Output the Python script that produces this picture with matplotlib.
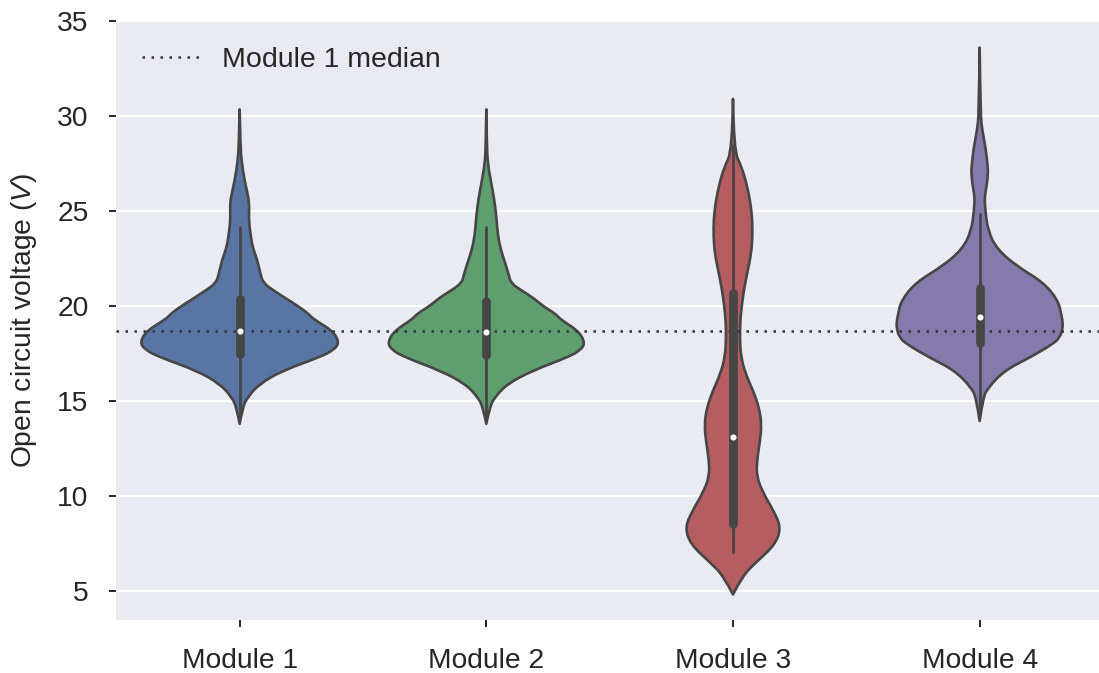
import matplotlib
matplotlib.use("Agg")
import matplotlib.pyplot as plt
from matplotlib.path import Path
from matplotlib.patches import PathPatch

# ---------------- data ----------------
categories = ["Module 1", "Module 2", "Module 3", "Module 4"]

# density profile of each violin: voltage levels and half-widths (category units)
m1_levels = [13.8, 14.65, 15.2, 15.9, 16.6, 17.3, 17.7, 18.1, 18.7, 19.3, 19.6, 19.95,
             20.46, 20.8, 21.2, 21.7, 22.4, 23.0, 23.5, 24.5, 25.2, 25.7, 26.6, 27.6, 28.5, 30.35]
m1_widths = [0.0, 0.012, 0.032, 0.08, 0.174, 0.323, 0.384, 0.404, 0.377, 0.30, 0.278, 0.242,
             0.18, 0.14, 0.096, 0.084, 0.072, 0.055, 0.047, 0.037, 0.039, 0.036, 0.02, 0.008, 0.003, 0.0]

m2_levels = [13.8, 14.65, 15.2, 15.9, 16.6, 17.3, 17.7, 18.1, 18.7, 19.3, 19.6, 19.95,
             20.46, 20.8, 21.2, 21.6, 22.2, 22.9, 23.5, 24.0, 24.8, 25.7, 26.6, 27.5, 28.5, 30.35]
m2_widths = [0.0, 0.013, 0.034, 0.085, 0.187, 0.33, 0.385, 0.40, 0.372, 0.30, 0.28, 0.235,
             0.187, 0.145, 0.10, 0.092, 0.078, 0.06, 0.05, 0.045, 0.04, 0.031, 0.018, 0.006, 0.002, 0.0]

m3_levels = [4.82, 5.81, 6.53, 7.44, 8.34, 9.24, 10.14, 11.05, 11.95, 12.85, 13.75, 14.66,
             15.56, 16.46, 17.36, 18.27, 19.17, 20.07, 20.97, 21.88, 22.78, 23.68, 24.58,
             25.49, 26.39, 27.29, 28.2, 30.9]
m3_widths = [0.0, 0.039, 0.095, 0.171, 0.195, 0.164, 0.123, 0.095, 0.098, 0.109, 0.116, 0.106,
             0.081, 0.050, 0.032, 0.028, 0.029, 0.036, 0.046, 0.060, 0.074, 0.079, 0.078,
             0.070, 0.056, 0.036, 0.003, 0.0]

m4_levels = [13.95, 15.18, 15.7, 16.6, 17.3, 18.0, 18.35, 18.8, 19.1, 19.5, 20.3, 21.25,
             22.1, 23.0, 23.95, 25.0, 25.7, 26.23, 26.93, 27.46, 28.33, 29.21, 30.1, 33.6]
m4_widths = [0.0, 0.014, 0.034, 0.10, 0.205, 0.297, 0.325, 0.336, 0.337, 0.332, 0.318, 0.258,
             0.15, 0.07, 0.034, 0.023, 0.020, 0.027, 0.034, 0.032, 0.024, 0.011, 0.003, 0.0]

levels = [m1_levels, m2_levels, m3_levels, m4_levels]
widths = [m1_widths, m2_widths, m3_widths, m4_widths]

# inner box statistics
q1 = [17.49, 17.40, 8.52, 18.07]
medians = [18.67, 18.62, 13.12, 19.42]
q3 = [20.37, 20.29, 20.70, 20.97]
whisker_low = [14.2, 14.2, 7.08, 14.3]
whisker_high = [24.14, 24.14, 28.5, 24.83]

colors = ["#5875A4", "#5F9E6E", "#B55D60", "#857AAB"]
yticks = [5, 10, 15, 20, 25, 30, 35]

# ---------------- style ----------------
plt.rcParams["font.family"] = ["Liberation Sans", "DejaVu Sans"]
plt.rcParams["mathtext.fontset"] = "custom"
plt.rcParams["mathtext.it"] = "Liberation Sans:italic"
text_color = "#262626"
edge = "#464646"

fig = plt.figure(figsize=(10.99, 6.73), dpi=100)
ax = fig.add_axes([116.3 / 1099, 53 / 673, (1103 - 116.3) / 1099, 599 / 673])
ax.set_facecolor("#EAEAF2")
for s in ax.spines.values():
    s.set_visible(False)


def side(points, verts, codes):
    n = len(points)
    for k in range(1, n - 2):
        p, q = points[k], points[k + 1]
        verts += [p, ((p[0] + q[0]) / 2, (p[1] + q[1]) / 2)]
        codes += [Path.CURVE3, Path.CURVE3]
    verts += [points[n - 2], points[n - 1]]
    codes += [Path.CURVE3, Path.CURVE3]


for i, (lv, wd, col) in enumerate(zip(levels, widths, colors)):
    right = [(i + w, y) for y, w in zip(lv, wd)]
    left = [(i - w, y) for y, w in zip(lv[::-1], wd[::-1])]
    verts = [right[0]]
    codes = [Path.MOVETO]
    side(right, verts, codes)
    side(left, verts, codes)
    verts.append(right[0])
    codes.append(Path.CLOSEPOLY)
    patch = PathPatch(Path(verts, codes), facecolor=col, edgecolor=edge, lw=1.9,
                      joinstyle="round", capstyle="round", zorder=2)
    ax.add_patch(patch)

ax.axhline(medians[0], color="#33333f", lw=1.8, ls=(0, (1, 2.6)), zorder=2.5,
           label="Module 1 median")

for i in range(len(categories)):
    ax.plot([i, i], [whisker_low[i], whisker_high[i]], color=edge, lw=2.0,
            solid_capstyle="round", zorder=3)
    ax.plot([i, i], [q1[i], q3[i]], color=edge, lw=6.3, solid_capstyle="round", zorder=3)
    ax.plot([i], [medians[i]], marker="o", ms=3.4, color="white", mec="white", zorder=4)

ax.set_xlim(-0.5, 3.5)
ax.set_ylim(3.476, 34.95)
ax.set_xticks(range(len(categories)))
ax.set_xticklabels(categories)
ax.set_yticks(yticks)
ax.yaxis.grid(True, color="white", lw=1.6)
ax.xaxis.grid(False)
ax.set_axisbelow(True)
ax.tick_params(axis="both", direction="out", length=5, width=1.4, color=text_color,
               labelsize=20.3, labelcolor=text_color, pad=15)
ax.set_ylabel("Open circuit voltage ($V$)", fontsize=20.3, color=text_color, labelpad=13)

leg = ax.legend(loc="upper left", frameon=False, fontsize=20.5, handlelength=2.0,
                handletextpad=0.8)
for t in leg.get_texts():
    t.set_color(text_color)

fig.savefig("out.png", dpi=100, facecolor="white")
